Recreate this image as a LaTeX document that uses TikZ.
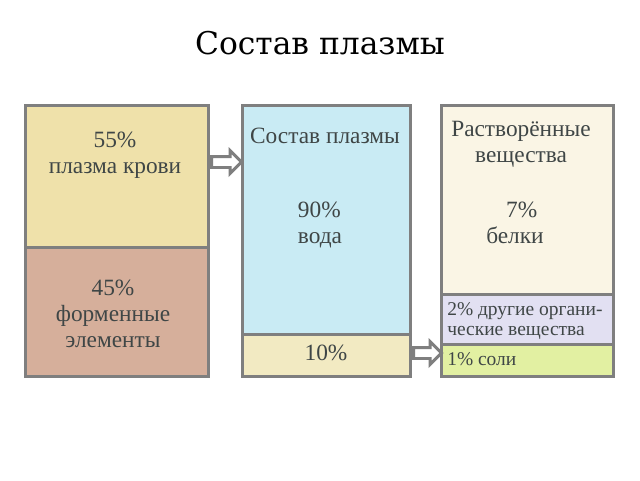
\documentclass[tikz,border=0pt]{standalone}
\usepackage{fontspec}
\setmainfont{Liberation Serif}
\newfontfamily\titlefont{DejaVu Serif}
\usetikzlibrary{shapes.arrows}
\definecolor{bordergray}{HTML}{7F7F7F}
\definecolor{txt}{HTML}{3F4646}
\definecolor{cKhaki}{HTML}{EFE1AA}
\definecolor{cRose}{HTML}{D6AF9B}
\definecolor{cCyan}{HTML}{C9EBF4}
\definecolor{cPale}{HTML}{F2EAC2}
\definecolor{cCream}{HTML}{FAF5E5}
\definecolor{cLilac}{HTML}{E2E0F2}
\definecolor{cLime}{HTML}{E2F0A2}
\begin{document}
\begin{tikzpicture}[x=0.75pt,y=-0.75pt,
  box/.style={draw=bordergray, line width=2.3pt, rectangle, inner sep=0pt, anchor=north west},
  lbl/.style={text=txt, font=\fontsize{17.5}{19.5}\selectfont, align=center, inner sep=0pt, anchor=base},
  lbls/.style={text=txt, font=\fontsize{14.6}{15}\selectfont, align=left, inner sep=0pt, anchor=base west},
  fatarrow/.style={single arrow, draw=bordergray, fill=white, line width=2.2pt,
     inner xsep=0pt, inner ysep=3pt, single arrow head extend=4.5pt,
     single arrow tip angle=90, minimum height=22.5pt, anchor=west}
]
\useasboundingbox (0,0) rectangle (640,480);
\fill[white] (0,0) rectangle (640,480);
\node[font=\titlefont\fontsize{23.5}{28}\selectfont, anchor=base, inner sep=0pt] (title) at (320,54) {Состав плазмы};
% left column
\node[box, fill=cKhaki, minimum width=137.25pt, minimum height=106.5pt] (lt) at (24,104) {};
\node[box, fill=cRose, minimum width=137.25pt, minimum height=96.75pt] (lb) at (24,246) {};
% middle column
\node[box, fill=cCyan, minimum width=126pt, minimum height=171.75pt] (mt) at (241,104) {};
\node[box, fill=cPale, minimum width=126pt, minimum height=31.5pt] (mb) at (241,333) {};
% right column
\node[box, fill=cCream, minimum width=129pt, minimum height=141.75pt] (rt) at (440,104) {};
\node[box, fill=cLilac, minimum width=129pt, minimum height=37.5pt] (rm) at (440,293) {};
\node[box, fill=cLime, minimum width=129pt, minimum height=24pt] (rb) at (440,343) {};
% texts (anchored at the baseline of the last line)
\node[lbl] (t1) at (115,173) {55\%\\плазма крови};
\node[lbl] (t2) at (113,347) {45\%\\форменные\\элементы};
\node[lbl] (t3) at (325,143) {Состав плазмы};
\node[lbl, align=left] (t4) at (320,243) {90\%\\вода};
\node[lbl] (t5) at (326,360) {10\%};
\node[lbl] (t6) at (521,162) {Растворённые\\вещества};
\node[lbl] (t7) at (515,243) {\hspace*{10pt}7\%\\белки};
\node[lbls] (t8) at (447,335) {2\% другие органи-\\ческие вещества};
\node[lbls] (t9) at (447,365) {1\% соли};
% arrows
\node[fatarrow] (a1) at (lt.east |- 0,162) {};
\node[fatarrow, minimum height=21pt] (a2) at (mb.east |- 0,353) {};
\end{tikzpicture}
\end{document}
